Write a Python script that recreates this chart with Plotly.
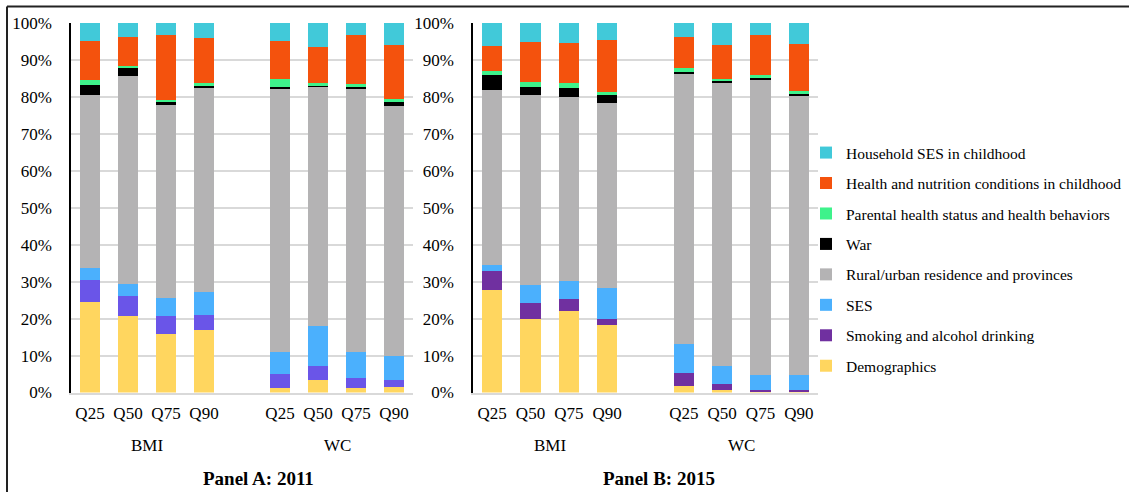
import plotly.graph_objects as go

# Categories
quantiles = ["Q25", "Q50", "Q75", "Q90"]
outcomes = ["BMI", "WC"]
panels = ["Panel A: 2011", "Panel B: 2015"]
y_ticks = [0, 10, 20, 30, 40, 50, 60, 70, 80, 90, 100]
y_tick_labels = [f"{v}%" for v in y_ticks]

# Factor names, bottom to top of each stack
factors = [
    "Demographics",
    "Smoking and alcohol drinking",
    "SES",
    "Rural/urban residence and provinces",
    "War",
    "Parental health status and health behaviors",
    "Health and nutrition conditions in childhood",
    "Household SES in childhood",
]

# Contribution shares (%), order: BMI Q25..Q90, WC Q25..Q90
# Panel A: 2011
demo_a = [24.4, 20.6, 15.8, 16.9, 1.3, 3.3, 1.3, 1.4]
smoke_a = [6.2, 5.5, 5.0, 4.0, 3.8, 4.0, 2.5, 2.1]
ses_a = [3.0, 3.3, 4.7, 6.4, 5.8, 10.6, 7.1, 6.3]
rural_a = [47.0, 56.3, 52.3, 55.1, 71.5, 64.8, 71.5, 67.8]
war_a = [2.7, 2.4, 0.9, 0.8, 0.2, 0.6, 0.2, 1.2]
parent_a = [1.3, 0.3, 0.6, 0.5, 2.2, 0.5, 0.9, 0.6]
health_a = [10.6, 7.8, 17.4, 12.4, 10.3, 9.8, 13.2, 14.7]
house_a = [4.8, 3.8, 3.3, 3.9, 4.9, 6.4, 3.3, 5.9]

# Panel B: 2015
demo_b = [27.8, 20.0, 22.1, 18.3, 1.8, 0.7, 0.45, 0.45]
smoke_b = [5.2, 4.2, 3.3, 1.7, 3.4, 1.6, 0.25, 0.25]
ses_b = [1.4, 4.8, 4.9, 8.4, 8.0, 4.9, 4.15, 4.0]
rural_b = [47.45, 51.6, 49.8, 50.1, 73.3, 77.0, 80.0, 75.9]
war_b = [4.1, 2.2, 2.3, 2.0, 0.3, 0.3, 0.45, 0.5]
parent_b = [1.2, 1.2, 1.5, 0.9, 1.0, 0.5, 0.6, 0.5]
health_b = [6.8, 10.8, 10.7, 14.0, 8.6, 9.2, 10.9, 12.7]
house_b = [6.0, 5.2, 5.4, 4.6, 3.6, 5.8, 3.2, 5.7]

series_a = [demo_a, smoke_a, ses_a, rural_a, war_a, parent_a, health_a, house_a]
series_b = [demo_b, smoke_b, ses_b, rural_b, war_b, parent_b, health_b, house_b]

colors_a = ["#FFD65F", "#6A55E8", "#4BB0FD", "#B4B3B4", "#000000",
            "#3EF28B", "#F4520D", "#41C9D9"]
colors_b = ["#FFD65F", "#7030A0", "#4BB0FD", "#B4B3B4", "#000000",
            "#3EF28B", "#F4520D", "#41C9D9"]

# x positions: one empty slot between the BMI and WC groups
positions = []
tick_text = []
for g, _ in enumerate(outcomes):
    for q, label in enumerate(quantiles):
        positions.append(g * (len(quantiles) + 1) + q)
        tick_text.append(label)
group_centers = [g * (len(quantiles) + 1) + (len(quantiles) - 1) / 2
                 for g in range(len(outcomes))]

W, H = 1129, 492
FONT = "Liberation Serif, Times New Roman, serif"

fig = go.Figure()

for panel_idx, (series, colors) in enumerate([(series_a, colors_a), (series_b, colors_b)]):
    xa = "x" if panel_idx == 0 else "x2"
    ya = "y" if panel_idx == 0 else "y2"
    for i, name in enumerate(factors):
        fig.add_trace(go.Bar(
            x=positions, y=series[i], name=name,
            marker=dict(color=colors[i], line=dict(width=0)),
            xaxis=xa, yaxis=ya,
            legendgroup=name,
            legendrank=len(factors) - i,
            showlegend=(panel_idx == 1),
        ))

# Plot-area placement (pixels -> paper fractions)
def px_x(v):
    return v / W

def px_y(v):
    return 1 - v / H

y_dom = [px_y(392.5), px_y(22.5)]

axis_common = dict(
    range=[-0.5, positions[-1] + 0.5],
    tickvals=positions, ticktext=tick_text,
    ticks="outside", ticklen=4, tickcolor="rgba(0,0,0,0)",
    showgrid=False, zeroline=False, automargin=False,
    showline=True, linecolor="#D9D9D9", linewidth=1.5,
    tickfont=dict(family=FONT, size=17, color="#000000"),
)
yaxis_common = dict(
    range=[0, 100.2], tickvals=y_ticks, ticktext=y_tick_labels,
    showgrid=True, gridcolor="#D9D9D9", gridwidth=1.5,
    zeroline=False, automargin=False,
    showline=True, linecolor="#000000", linewidth=1.5,
    ticks="outside", ticklen=14, tickcolor="rgba(0,0,0,0)",
    tickfont=dict(family=FONT, size=17, color="#000000"),
    domain=y_dom,
)

fig.update_layout(
    width=W, height=H,
    margin=dict(l=0, r=0, t=0, b=0),
    paper_bgcolor="white", plot_bgcolor="white",
    barmode="stack", bargap=0.47,
    xaxis=dict(domain=[px_x(71), px_x(413)], anchor="y", **axis_common),
    yaxis=dict(anchor="x", **yaxis_common),
    xaxis2=dict(domain=[px_x(473), px_x(818)], anchor="y2", **axis_common),
    yaxis2=dict(anchor="x2", **yaxis_common),
    legend=dict(
        x=px_x(806), y=px_y(136), xanchor="left", yanchor="top",
        traceorder="grouped", tracegroupgap=7.3,
        font=dict(family=FONT, size=15.5, color="#000000"),
        bgcolor="rgba(0,0,0,0)", itemclick=False,
    ),
    showlegend=True,
)

# Outcome group labels under each panel
annotations = []
for xa in ["x", "x2"]:
    for name, cx in zip(outcomes, group_centers):
        annotations.append(dict(
            x=cx, y=px_y(445), xref=xa, yref="paper",
            text=name, showarrow=False,
            font=dict(family=FONT, size=17, color="#000000"),
            xanchor="center", yanchor="middle",
        ))

# Panel titles
for title, cx in zip(panels, [258, 659]):
    annotations.append(dict(
        x=px_x(cx), y=px_y(478), xref="paper", yref="paper",
        text="<b>" + title + "</b>", showarrow=False,
        font=dict(family=FONT, size=19, color="#000000"),
        xanchor="center", yanchor="middle",
    ))
fig.update_layout(annotations=annotations)

# Frame lines along the top and left edges
fig.update_layout(shapes=[
    dict(type="line", xref="paper", yref="paper",
         x0=px_x(7), x1=1, y0=px_y(6.5), y1=px_y(6.5),
         line=dict(color="#222222", width=2)),
    dict(type="line", xref="paper", yref="paper",
         x0=px_x(7), x1=px_x(7), y0=px_y(6.5), y1=0,
         line=dict(color="#222222", width=2)),
])

fig.write_html("out.html")
